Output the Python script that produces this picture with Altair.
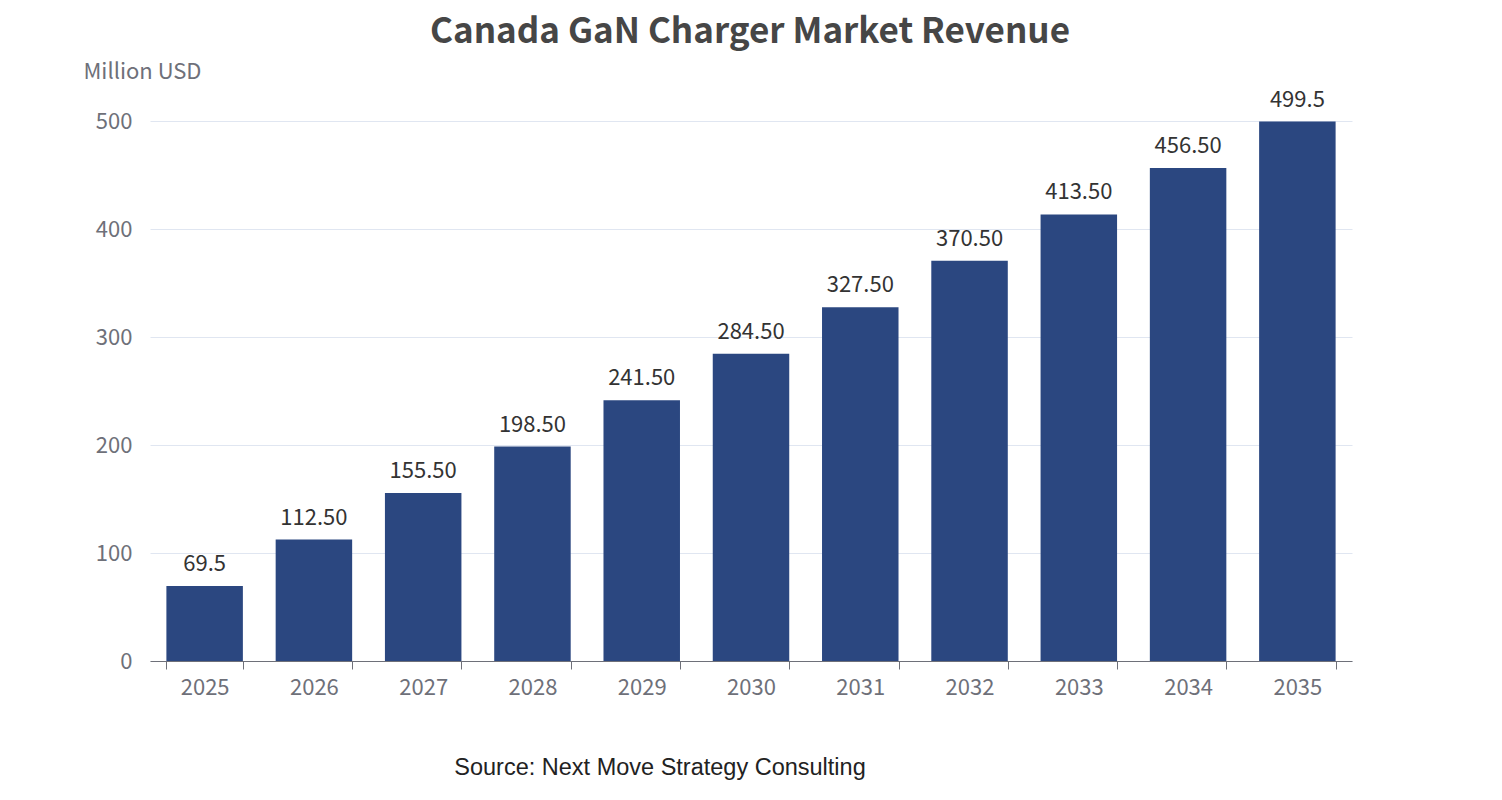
import altair as alt
import pandas as pd

years = ["2025", "2026", "2027", "2028", "2029", "2030", "2031", "2032", "2033", "2034", "2035"]
revenue = [69.5, 112.5, 155.5, 198.5, 241.5, 284.5, 327.5, 370.5, 413.5, 456.5, 499.5]
labels = ["69.5", "112.50", "155.50", "198.50", "241.50", "284.50",
          "327.50", "370.50", "413.50", "456.50", "499.5"]

df = pd.DataFrame({"year": years, "value": revenue, "label": labels})
FONT = "Noto Sans CJK SC"

x = alt.X("year:N", title=None, sort=None,
          scale=alt.Scale(paddingInner=0.3, paddingOuter=0.15),
          axis=alt.Axis(labelAngle=0, labelFontSize=22, labelColor="#6e7079", labelFont=FONT,
                        labelPadding=8, domainColor="#6e7079", tickColor="#6e7079",
                        tickSize=8, tickBand="extent", grid=False))
y = alt.Y("value:Q", scale=alt.Scale(domain=[0, 500]),
          axis=alt.Axis(values=[0, 100, 200, 300, 400, 500], title="Million USD", titleAngle=0,
                        titleAlign="left", titleX=-67, titleY=-38, titleFontSize=22,
                        titleFontWeight="normal", titleColor="#6e7079", titleFont=FONT,
                        labelFontSize=22, labelColor="#6e7079", labelFont=FONT, labelPadding=18,
                        domain=False, ticks=False, gridColor="#e0e6f1"))

base = alt.Chart(df)
bars = base.mark_bar(color="#2b4780").encode(x=x, y=y)
text = base.mark_text(dy=-22, fontSize=22, color="#333333", font=FONT).encode(
    x=x, y=y, text="label:N")

title = alt.Chart(pd.DataFrame({"t": ["Canada GaN Charger Market Revenue"]})).mark_text(
    fontSize=35, fontWeight="bold", color="#464646", font=FONT, baseline="alphabetic"
).encode(x=alt.value(600), y=alt.value(-78), text="t:N")

source = alt.Chart(pd.DataFrame({"t": ["Source: Next Move Strategy Consulting"]})).mark_text(
    fontSize=23.5, color="#222222", font="Liberation Sans", baseline="alphabetic"
).encode(x=alt.value(510), y=alt.value(654), text="t:N")

chart = (bars + text + title + source).properties(
    width=1202, height=540, autosize="none",
    padding={"left": 142, "top": 113, "right": 142, "bottom": 131}
).configure_view(stroke=None)

chart.save("out.html", embed_options={"renderer": "svg", "actions": False})
